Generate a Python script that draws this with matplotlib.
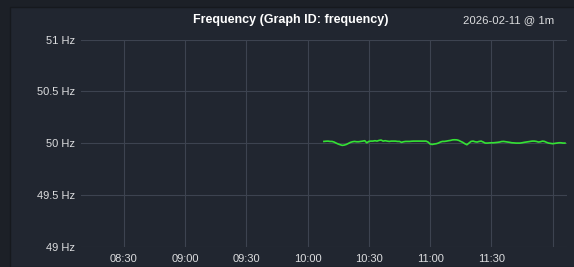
import matplotlib
matplotlib.use("Agg")
import matplotlib.pyplot as plt
import pandas as pd

# frequency samples, one per minute starting 10:08
freq = [50.019, 50.021, 50.022, 50.019, 50.019, 50.013, 50.003, 49.994, 49.987, 49.981,
        49.984, 49.990, 50.000, 50.010, 50.016, 50.019, 50.016, 50.016, 50.019, 50.022,
        50.026, 50.006, 50.019, 50.022, 50.022, 50.026, 50.022, 50.029, 50.032, 50.022,
        50.026, 50.022, 50.019, 50.022, 50.022, 50.022, 50.019, 50.019,
        50.010, 50.016, 50.019, 50.019, 50.019, 50.021, 50.022, 50.022, 50.022, 50.022,
        50.022, 50.022, 50.022, 50.013, 49.994, 49.990, 49.994, 49.997, 50.003, 50.013,
        50.019, 50.019, 50.022, 50.026, 50.029, 50.034, 50.035, 50.034, 50.029, 50.019,
        50.010, 49.997, 49.987, 50.003, 50.019, 50.022, 50.016, 50.013, 50.019, 50.022,
        50.013,
        50.003, 50.003, 50.005, 50.006, 50.006, 50.008, 50.010, 50.013, 50.018, 50.019,
        50.016, 50.013, 50.010, 50.006, 50.005, 50.003, 50.003, 50.003, 50.006, 50.010,
        50.013, 50.016, 50.019, 50.022, 50.022, 50.019, 50.013, 50.016, 50.022, 50.019,
        50.010, 50.003, 50.000, 49.997, 50.000, 50.003, 50.006, 50.006, 50.003, 50.003]
times = pd.date_range("2026-02-11 10:08", periods=len(freq), freq="1min")

y_ticks = [49, 49.5, 50, 50.5, 51]
y_labels = ["49 Hz", "49.5 Hz", "50 Hz", "50.5 Hz", "51 Hz"]
x_ticks = pd.to_datetime(["2026-02-11 08:30", "2026-02-11 09:00", "2026-02-11 09:30",
                          "2026-02-11 10:00", "2026-02-11 10:30", "2026-02-11 11:00",
                          "2026-02-11 11:30", "2026-02-11 12:00"])
x_labels = ["08:30", "09:00", "09:30", "10:00", "10:30", "11:00", "11:30", ""]
x_start = pd.Timestamp("2026-02-11 08:09:06")
x_end = pd.Timestamp("2026-02-11 12:07:00")

W, H = 574, 267
bg_outer = "#1c2027"
bg_panel = "#212630"
txt = "#dcdddf"
grid_c = "#3d4350"

plt.rcParams["font.family"] = ["Liberation Sans", "DejaVu Sans"]

fig = plt.figure(figsize=(W / 100, H / 100), dpi=100)
fig.patch.set_facecolor(bg_outer)

# panel background with a thin darker border, kept behind the plot
panel = plt.Rectangle((10 / W, 0), 1, 1 - 7 / H, transform=fig.transFigure,
                      facecolor=bg_panel, edgecolor="#16191e", linewidth=1.0,
                      zorder=-10)
fig.patches.append(panel)

ax = fig.add_axes([81 / W, 1 - 247.3 / H, (567 - 81) / W, (247.3 - 39.5) / H])
ax.set_facecolor(bg_panel)
ax.plot(times, freq, color="#34e234", linewidth=1.2)

ax.set_ylim(49, 51)
ax.set_yticks(y_ticks)
ax.set_yticklabels(y_labels)
ax.set_xlim(x_start, x_end)
ax.set_xticks(x_ticks)
ax.set_xticklabels(x_labels)

ax.grid(True, color=grid_c, linewidth=0.8)
for s in ax.spines.values():
    s.set_visible(False)
ax.tick_params(length=0, labelsize=8, colors=txt)
ax.tick_params(axis="y", pad=4)
ax.tick_params(axis="x", pad=5)

fig.text(291 / W, 1 - 20 / H, "Frequency (Graph ID: frequency)", color="white",
         fontsize=9, fontweight="bold", ha="center", va="center")
fig.text(554 / W, 1 - 20 / H, "2026-02-11 @ 1m", color=txt,
         fontsize=8.2, ha="right", va="center")

fig.savefig("out.png", dpi=100, facecolor=fig.get_facecolor())
